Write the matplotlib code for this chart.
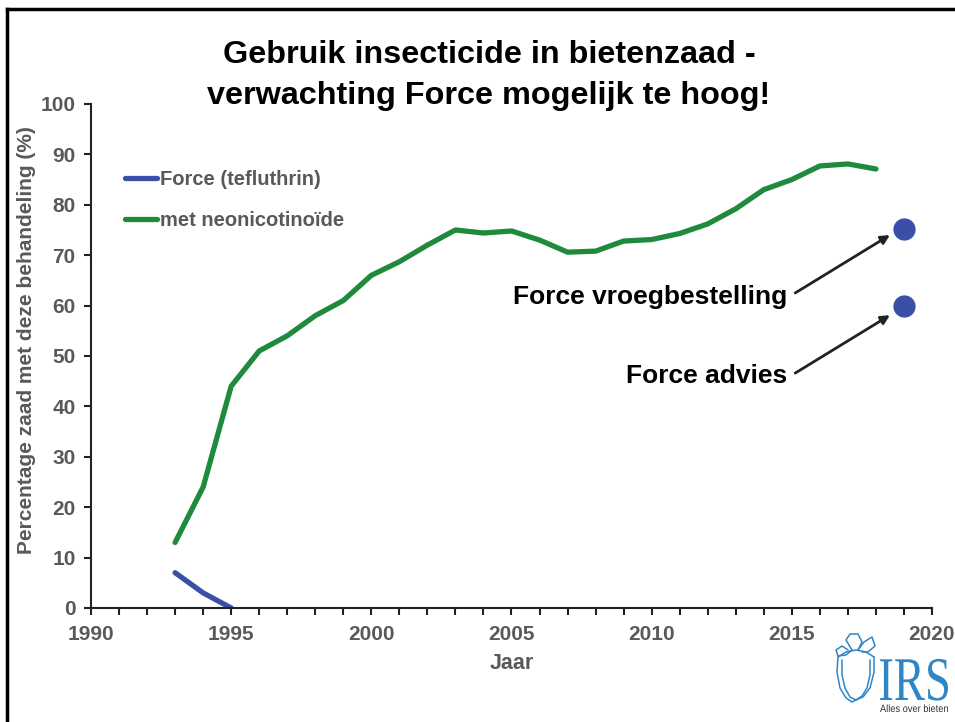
import matplotlib
matplotlib.use("Agg")
import matplotlib.pyplot as plt
from matplotlib.lines import Line2D
from matplotlib.textpath import TextPath
from matplotlib.patches import PathPatch
from matplotlib.font_manager import FontProperties
from matplotlib.transforms import Affine2D

plt.rcParams['font.family'] = ['Liberation Sans', 'DejaVu Sans']

# Data
years_neo = list(range(1993, 2019))
neo = [13, 24, 44, 51, 54, 58, 61, 66, 68.7, 72, 75, 74.4, 74.8, 73, 70.6, 70.8,
       72.8, 73.1, 74.3, 76.2, 79.2, 83, 85, 87.7, 88.1, 87.1]
years_force = [1993, 1994, 1995]
force = [7, 3, 0]
expect_year = [2019, 2019]
expect_vals = [75.2, 60]
expect_labels = ["Force vroegbestelling", "Force advies"]
xticks = [1990, 1995, 2000, 2005, 2010, 2015, 2020]
yticks = list(range(0, 101, 10))

GREEN = "#208A3C"
BLUE = "#3A4FA6"
GRAY = "#595959"

W, H = 955, 722
fig = plt.figure(figsize=(9.55, 7.22), dpi=100)
ax = fig.add_axes([0.0953, 0.1579, 0.8806, 0.6981])

ax.plot(years_neo, neo, color=GREEN, lw=3.8, solid_capstyle='round', label="met neonicotinoïde")
ax.plot(years_force, force, color=BLUE, lw=3.8, solid_capstyle='round', label="Force (tefluthrin)")
ax.plot(expect_year, expect_vals, 'o', color=BLUE, markersize=15, markeredgecolor=BLUE, clip_on=False)

ax.set_xlim(1990, 2020)
ax.set_ylim(0, 100)
ax.set_xticks(xticks)
ax.set_xticks(range(1990, 2021), minor=True)
ax.set_yticks(yticks)
for s in ['top', 'right']:
    ax.spines[s].set_visible(False)
for s in ['left', 'bottom']:
    ax.spines[s].set_linewidth(1.5)
    ax.spines[s].set_color("#222222")
ax.tick_params(axis='both', which='both', direction='out', length=5, width=1.5, color="#222222",
               labelcolor=GRAY, labelsize=15)
ax.tick_params(axis='y', pad=6)
ax.tick_params(axis='x', pad=7)
for lab in ax.get_xticklabels() + ax.get_yticklabels():
    lab.set_fontweight('bold')

ax.set_xlabel("Jaar", fontsize=15.5, fontweight='bold', color=GRAY, labelpad=7)
ax.set_ylabel("Percentage zaad met deze behandeling (%)", fontsize=15, fontweight='bold',
              color=GRAY)
ax.yaxis.set_label_coords(-55 / 841, (608 - 340) / 504)

handles = [Line2D([0], [0], color=BLUE, lw=3.8, solid_capstyle='round'),
           Line2D([0], [0], color=GREEN, lw=3.8, solid_capstyle='round')]
leg = ax.legend(handles, ["Force (tefluthrin)", "met neonicotinoïde"], loc='upper left',
                bbox_to_anchor=(0.019, 0.905), frameon=False, handlelength=1.6, handletextpad=0.15,
                labelspacing=1.08, prop={'weight': 'bold', 'size': 14.5})
for t in leg.get_texts():
    t.set_color(GRAY)

fig.text(0.512, 1 - 75.5 / H, "Gebruik insecticide in bietenzaad -\nverwachting Force mogelijk te hoog!",
         ha='center', va='center', fontsize=23.3, fontweight='bold', linespacing=1.5)

# annotation texts and arrows
text_pos = [(2014.82, 61.8), (2014.85, 46.0)]
starts = [(2015.12, 62.5), (2015.12, 46.6)]
ends = [(2018.5, 74.0), (2018.5, 58.1)]
for lbl, tp, st, en in zip(expect_labels, text_pos, starts, ends):
    ax.text(tp[0], tp[1], lbl, ha='right', va='center', fontsize=19, fontweight='bold')
    ax.annotate("", xy=en, xytext=st,
                arrowprops=dict(arrowstyle='-|>', color='#222222', lw=2, mutation_scale=13,
                                shrinkA=0, shrinkB=0))

# IRS logo (approximate), drawn in a pixel-coordinate axes
lax = fig.add_axes([820 / W, 0, 135 / W, 122 / H])
lax.set_xlim(820, 955)
lax.set_ylim(722, 600)
lax.axis('off')
lc = "#2F86C6"
tp = TextPath((0, 0), "IRS", size=1, prop=FontProperties(family='Liberation Serif'))
ext = tp.get_extents()
sx = 68 / ext.width
sy = -41 / 0.66
trans = Affine2D().translate(-ext.x0, 0).scale(sx, sy).translate(880, 700)
lax.add_patch(PathPatch(trans.transform_path(tp), color=lc, lw=0))
tp2 = TextPath((0, 0), "Alles over bieten", size=1, prop=FontProperties(family='Liberation Sans'))
ext2 = tp2.get_extents()
trans2 = Affine2D().translate(-ext2.x0, 0).scale(68 / ext2.width, -10.5).translate(880, 712)
lax.add_patch(PathPatch(trans2.transform_path(tp2), color="#333333", lw=0))
# beet icon
icon_lines = [
    ([838, 837, 840, 846, 852, 856], [657, 672, 688, 698, 702, 700]),
    ([874, 874, 870, 863, 856], [657, 672, 688, 697, 700]),
    ([842, 842, 845, 850, 856], [660, 675, 688, 697, 700]),
    ([870, 870, 867, 862, 856], [660, 675, 688, 696, 700]),
    ([838, 846, 856, 866, 874], [657, 652, 650, 652, 657]),
    ([848, 842, 836, 838, 846, 852], [650, 646, 650, 656, 655, 650]),
    ([852, 846, 850, 858, 862, 858], [650, 640, 634, 634, 642, 650]),
    ([858, 864, 872, 875, 868, 862], [650, 642, 637, 646, 652, 652]),
]
for xs, ys in icon_lines:
    lax.plot(xs, ys, color=lc, lw=1.1, solid_capstyle='round')

# slide frame (left and top)
fig.add_artist(Line2D([0.0075, 0.0075], [0, 0.987], color='black', lw=2.5, transform=fig.transFigure))
fig.add_artist(Line2D([0.0075, 1.0], [0.987, 0.987], color='black', lw=2.5, transform=fig.transFigure))

fig.savefig("out.png", dpi=100)
